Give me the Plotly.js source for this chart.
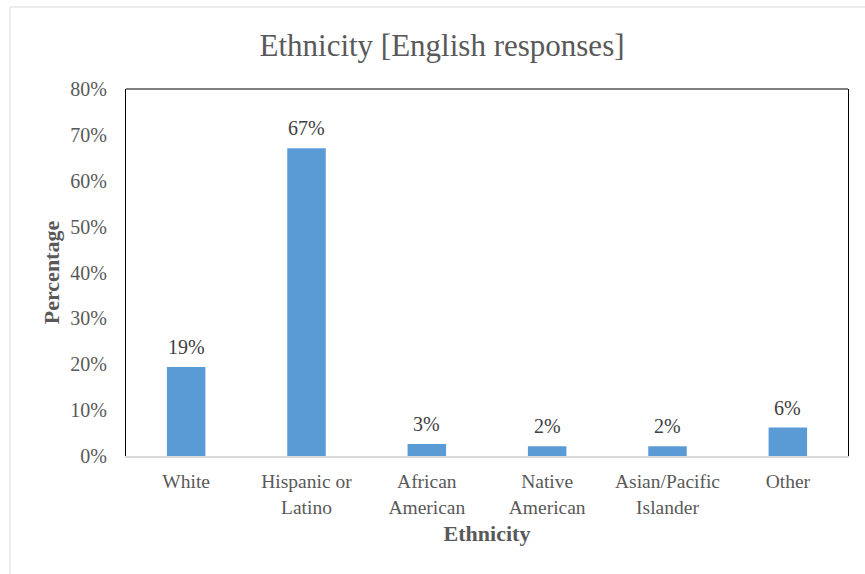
<!DOCTYPE html>
<html><head><meta charset="utf-8">
<script src="https://cdn.plot.ly/plotly-3.0.1.min.js"></script>
<style>html,body{margin:0;padding:0;background:#fff;}#chart{width:865px;height:574px;}</style>
</head><body><div id="chart"></div>
<script>
const categories = ["White", "Hispanic or<br>Latino", "African<br>American", "Native<br>American", "Asian/Pacific<br>Islander", "Other"];
const percentages = [19.4, 67.1, 2.6, 2.1, 2.1, 6.2];
const yTickValues = [0, 10, 20, 30, 40, 50, 60, 70, 80];
const yTickLabels = ["0%", "10%", "20%", "30%", "40%", "50%", "60%", "70%", "80%"];
const chartTitle = "Ethnicity [English responses]";
const xTitle = "Ethnicity";
const yTitle = "Percentage";

const serif = "Liberation Serif, Times New Roman, serif";

const trace = {
  type: "bar",
  x: categories,
  y: percentages,
  marker: {color: "#5B9BD5"},
  hoverinfo: "none"
};

const labels = categories.map((c, i) => ({
  x: c, y: percentages[i], xref: "x", yref: "y",
  text: Math.round(percentages[i]) + "%",
  showarrow: false, yanchor: "bottom", yshift: 7,
  font: {family: serif, size: 20, color: "#404040"}
}));

const layout = {
  width: 865, height: 574,
  margin: {l: 126, r: 17, t: 89, b: 118},
  paper_bgcolor: "#fff", plot_bgcolor: "#fff",
  showlegend: false,
  bargap: 0.68,
  title: {text: chartTitle, font: {family: serif, size: 31, color: "#595959"}, x: 0.511, xanchor: "center", y: 0.922, yanchor: "middle"},
  xaxis: {
    type: "category",
    showline: true, linecolor: "#D9D9D9", linewidth: 2,
    showgrid: false, ticks: "",
    ticklabelstandoff: 7,
    tickfont: {family: serif, size: 19.5, color: "#595959"},
    title: {text: xTitle, font: {family: serif, size: 22, color: "#595959", weight: "bold"}, standoff: 9}
  },
  yaxis: {
    range: [0, 80], tickvals: yTickValues, ticktext: yTickLabels,
    showline: true, mirror: true, linecolor: "#000", linewidth: 1,
    showgrid: false, zeroline: false, ticks: "",
    ticklabelstandoff: 14,
    tickfont: {family: serif, size: 20, color: "#595959"},
    title: {text: yTitle, font: {family: serif, size: 22, color: "#595959", weight: "bold"}, standoff: 4}
  },
  annotations: labels,
  shapes: [
    {type: "line", xref: "paper", yref: "paper", x0: 0, x1: 1, y0: 1, y1: 1, line: {color: "#000", width: 1}},
    {type: "rect", xref: "paper", yref: "paper", x0: -0.1607, x1: 1.2, y0: -0.5, y1: 1.2234, line: {color: "#D9D9D9", width: 1}, layer: "below"}
  ]
};

Plotly.newPlot("chart", [trace], layout, {staticPlot: true, displayModeBar: false});
</script>
</body></html>
